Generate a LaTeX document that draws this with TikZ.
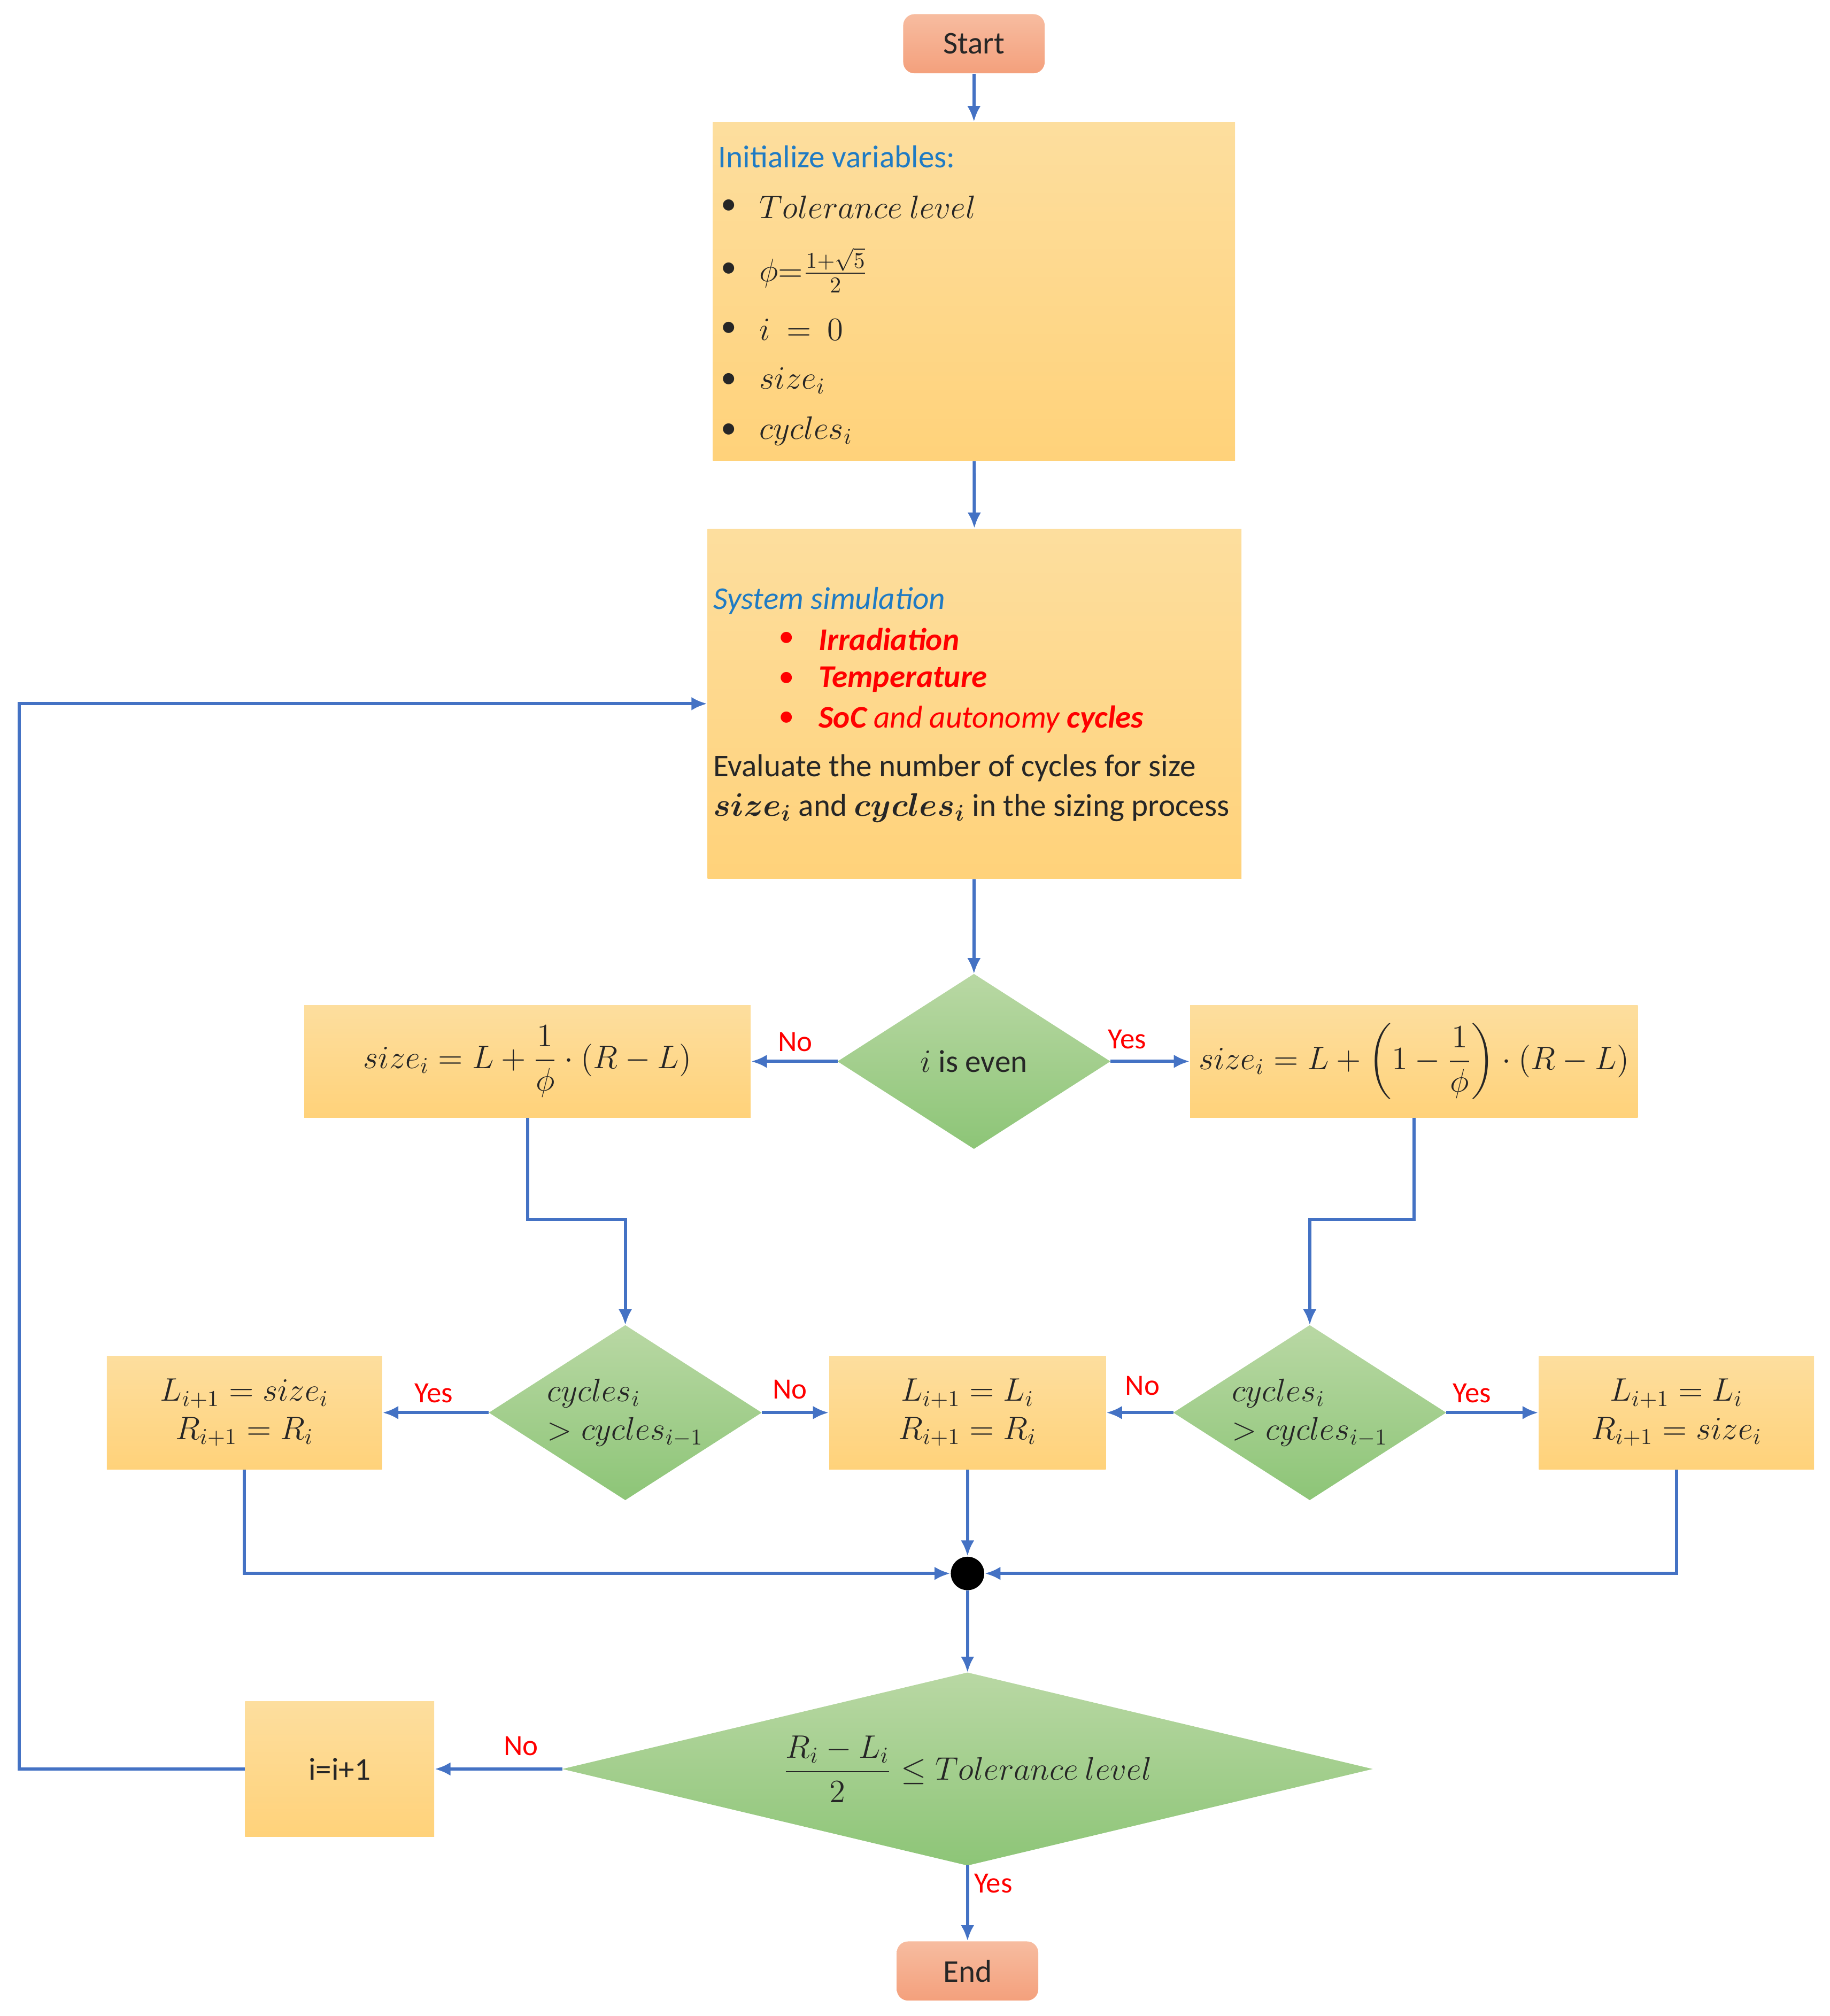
\documentclass[tikz,border=0pt]{standalone}
\usepackage{amsmath,amssymb}
\usepackage{fontspec}
\setmainfont{Carlito}
\usetikzlibrary{arrows.meta}
\definecolor{flowblue}{HTML}{4472C4}
\definecolor{labred}{HTML}{FF0000}
\definecolor{headblue}{HTML}{1F7BC4}
\definecolor{boxtop}{HTML}{FDDE9E}
\definecolor{boxbot}{HTML}{FFD27A}
\definecolor{dectop}{HTML}{B9D8A4}
\definecolor{decbot}{HTML}{8DC577}
\definecolor{termtop}{HTML}{F7BCA0}
\definecolor{termbot}{HTML}{F4A07C}
\definecolor{ink}{HTML}{262626}
\tikzset{
  box/.style={rectangle,top color=boxtop,bottom color=boxbot,inner sep=0pt,text=ink,font=\fontsize{14}{17}\selectfont},
  term/.style={rectangle,rounded corners=5pt,top color=termtop,bottom color=termbot,minimum width=2.2cm,minimum height=0.92cm,text=ink,font=\fontsize{14}{17}\selectfont},
  flow/.style={flowblue,line width=1.4pt,-{Latex[length=7pt,width=6pt]}},
  lab/.style={labred,font=\fontsize{13}{15}\selectfont},
  txt/.style={anchor=west,inner sep=0pt,text=ink,font=\fontsize{14}{17}\selectfont}
}
% diamond: name, x, y, half width, half height, text
\newcommand\dia[6]{%
  \shade[top color=dectop,bottom color=decbot] (#2-#4,#3) -- (#2,#3-#5) -- (#2+#4,#3) -- (#2,#3+#5) -- cycle;
  \coordinate (#1-n) at (#2,#3-#5);
  \coordinate (#1-s) at (#2,#3+#5);
  \coordinate (#1-w) at (#2-#4,#3);
  \coordinate (#1-e) at (#2+#4,#3);
  \node[inner sep=0pt,align=left,text=ink,font=\fontsize{14}{17}\selectfont] (#1) at (#2,#3) {#6};}
\begin{document}
\begin{tikzpicture}[x=0.02cm,y=-0.02cm]
  \useasboundingbox (0,0) rectangle (1422,1567);
  % terminals and boxes
  \node[term] (start) at (757,34) {Start};
  \node[box,minimum width=8.12cm,minimum height=5.26cm] (init) at (757,226.5) {};
  \node[box,minimum width=8.3cm,minimum height=5.44cm] (sim) at (757.5,547) {};
  \dia{even}{757}{825}{106}{68}{$i$ is even}
  \node[box,minimum width=6.94cm,minimum height=1.74cm] (lbox) at (410,825) {$size_i = L + \dfrac{1}{\phi}\cdot(R-L)$};
  \node[box,minimum width=6.96cm,minimum height=1.74cm] (rbox) at (1099,825) {$size_i = L + \left(1-\dfrac{1}{\phi}\right)\cdot(R-L)$};
  \dia{dl}{486}{1098}{106}{68}{$cycles_i$\\$> cycles_{i-1}$}
  \dia{dr}{1018}{1098}{106}{68}{$cycles_i$\\$> cycles_{i-1}$}
  \node[box,minimum width=4.28cm,minimum height=1.76cm,align=center] (bl) at (190,1098) {$L_{i+1} = size_i$\\$R_{i+1} = R_i$};
  \node[box,minimum width=4.3cm,minimum height=1.76cm,align=center] (bm) at (752,1098) {$L_{i+1} = L_i$\\$R_{i+1} = R_i$};
  \node[box,minimum width=4.28cm,minimum height=1.76cm,align=center] (br) at (1303,1098) {$L_{i+1} = L_i$\\$R_{i+1} = size_i$};
  \node[circle,fill=black,minimum size=0.52cm,inner sep=0pt] (dot) at (752,1223) {};
  \dia{big}{752}{1375}{315}{75}{$\dfrac{R_i-L_i}{2}\leq Tolerance\ level$}
  \node[box,minimum width=2.94cm,minimum height=2.1cm] (ibox) at (264,1375) {i=i+1};
  \node[term] (end) at (752,1532) {End};
  % initialisation text
  \node[txt,headblue] (ihead) at (558,122) {Initialize variables:};
  \foreach \y/\t [count=\k] in {161/{$Tolerance\ level$},210/{$\phi{=}\frac{1+\sqrt5}{2}$},256/{$i\ =\ 0$},296/{$size_i$},335/{$cycles_i$}}{
    \node[txt] (ib\k) at (560,\y) {\textbullet};
    \node[txt] (it\k) at (590,\y) {\t};
  }
  % simulation text
  \node[txt,headblue] (shead) at (554,467) {\itshape System simulation};
  \foreach \y/\t [count=\k] in {497/{\bfseries\itshape Irradiation},528/{\bfseries\itshape Temperature},559/{\bfseries\itshape SoC \mdseries and autonomy \bfseries cycles}}{
    \node[txt,labred] (sb\k) at (605,\y) {\textbullet};
    \node[txt,labred] (st\k) at (636,\y) {\t};
  }
  \node[txt] (se1) at (554,597) {Evaluate the number of cycles for size};
  \node[txt] (se2) at (554,628) {$\boldsymbol{size_i}$ and $\boldsymbol{cycles_i}$ in the sizing process};
  % connectors
  \draw[flow] (start) -- (init);
  \draw[flow] (init) -- (sim);
  \draw[flow] (sim) -- (even-n);
  \draw[flow] (even-w) -- (lbox);
  \draw[flow] (even-e) -- (rbox);
  \draw[flow] (lbox.south) -- (lbox.south |- 0,948) -- (dl-n |- 0,948) -- (dl-n);
  \draw[flow] (rbox.south) -- (rbox.south |- 0,948) -- (dr-n |- 0,948) -- (dr-n);
  \draw[flow] (dl-w) -- (bl);
  \draw[flow] (dl-e) -- (bm);
  \draw[flow] (dr-w) -- (bm);
  \draw[flow] (dr-e) -- (br);
  \draw[flow] (bl.south) |- (dot);
  \draw[flow] (br.south) |- (dot);
  \draw[flow] (bm) -- (dot);
  \draw[flow] (dot) -- (big-n);
  \draw[flow] (big-w) -- (ibox);
  \draw[flow] (big-s) -- (end);
  \draw[flow] (ibox.west) -- (15,1375) -- (15,547) -- (sim.west);
  % labels
  \node[lab] at (618,810) {No};
  \node[lab] at (876,808) {Yes};
  \node[lab] at (337,1083) {Yes};
  \node[lab] at (614,1080) {No};
  \node[lab] at (888,1077) {No};
  \node[lab] at (1144,1083) {Yes};
  \node[lab] at (405,1357) {No};
  \node[lab] at (772,1464) {Yes};
\end{tikzpicture}
\end{document}
